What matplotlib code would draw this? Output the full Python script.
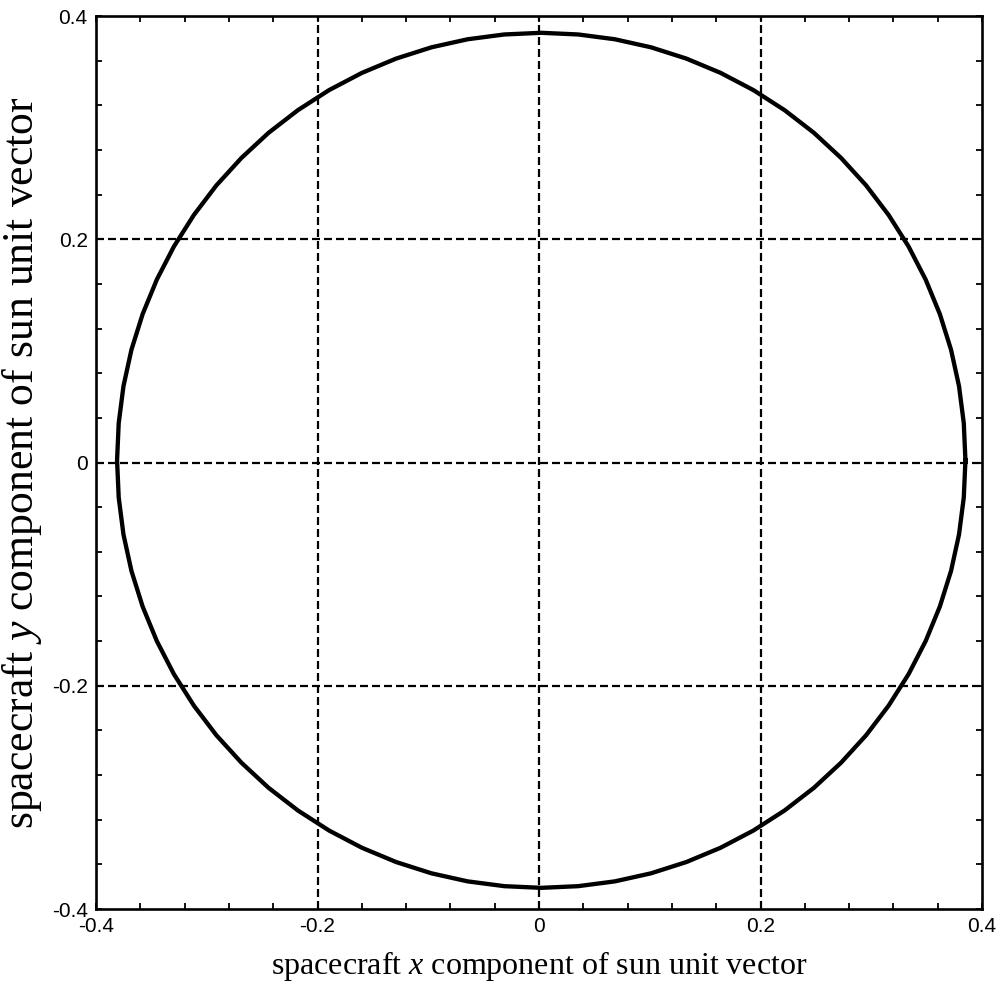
import numpy as np
import matplotlib
matplotlib.use("Agg")
import matplotlib.pyplot as plt
from matplotlib.ticker import AutoMinorLocator

# sun unit vector components over one spin period (spacecraft frame)
sun_x = [0.3850, 0.3835, 0.3792, 0.3720, 0.3619, 0.3491, 0.3337, 0.3157, 0.2954,
         0.2728, 0.2482, 0.2217, 0.1935, 0.1639, 0.1330, 0.1011, 0.0685, 0.0354,
         0.0020, -0.0314, -0.0645, -0.0971, -0.1290, -0.1599, -0.1895, -0.2177, -0.2442,
         -0.2688, -0.2914, -0.3117, -0.3297, -0.3451, -0.3579, -0.3680, -0.3752, -0.3795,
         -0.3810, -0.3795, -0.3752, -0.3680, -0.3579, -0.3451, -0.3297, -0.3117, -0.2914,
         -0.2688, -0.2442, -0.2177, -0.1895, -0.1599, -0.1290, -0.0971, -0.0645, -0.0314,
         0.0020, 0.0354, 0.0685, 0.1011, 0.1330, 0.1639, 0.1935, 0.2217, 0.2482,
         0.2728, 0.2954, 0.3157, 0.3337, 0.3491, 0.3619, 0.3720, 0.3792, 0.3835,
         0.3850]
sun_y = [0.0020, 0.0354, 0.0685, 0.1011, 0.1330, 0.1639, 0.1935, 0.2217, 0.2482,
         0.2728, 0.2954, 0.3157, 0.3337, 0.3491, 0.3619, 0.3720, 0.3792, 0.3835,
         0.3850, 0.3835, 0.3792, 0.3720, 0.3619, 0.3491, 0.3337, 0.3157, 0.2954,
         0.2728, 0.2482, 0.2217, 0.1935, 0.1639, 0.1330, 0.1011, 0.0685, 0.0354,
         0.0020, -0.0314, -0.0645, -0.0971, -0.1290, -0.1599, -0.1895, -0.2177, -0.2442,
         -0.2688, -0.2914, -0.3117, -0.3297, -0.3451, -0.3579, -0.3680, -0.3752, -0.3795,
         -0.3810, -0.3795, -0.3752, -0.3680, -0.3579, -0.3451, -0.3297, -0.3117, -0.2914,
         -0.2688, -0.2442, -0.2177, -0.1895, -0.1599, -0.1290, -0.0971, -0.0645, -0.0314,
         0.0020]

ticks = [-0.4, -0.2, 0, 0.2, 0.4]
tick_labels = ['-0.4', '-0.2', '0', '0.2', '0.4']
grid_at = [-0.2, 0, 0.2]

plt.rcParams['axes.unicode_minus'] = False
plt.rcParams['mathtext.fontset'] = 'custom'
plt.rcParams['mathtext.it'] = 'Liberation Serif:italic'
plt.rcParams['mathtext.rm'] = 'Liberation Serif'

fig = plt.figure(figsize=(9.97, 9.91), dpi=100)
ax = fig.add_axes([0.0963, 0.0827, 0.8887, 0.9011])

# dashed grid at the inner major ticks
for g in grid_at:
    ax.axvline(g, color='k', lw=1.6, ls=(0, (3.6, 1.8)), zorder=1)
    ax.axhline(g, color='k', lw=1.6, ls=(0, (3.6, 1.8)), zorder=1)

ax.plot(sun_x, sun_y, color='k', lw=3.1, solid_joinstyle='round', zorder=3)

ax.set_xlim(-0.4, 0.4)
ax.set_ylim(-0.4, 0.4)
ax.set_xticks(ticks)
ax.set_xticklabels(tick_labels)
ax.set_yticks(ticks)
ax.set_yticklabels(tick_labels)
ax.xaxis.set_minor_locator(AutoMinorLocator(5))
ax.yaxis.set_minor_locator(AutoMinorLocator(5))
ax.tick_params(which='both', direction='in', top=True, right=True,
               width=1.3, color='k')
ax.tick_params(which='major', length=4.5, labelsize=15, pad=6)
ax.tick_params(which='minor', length=4.2)
for lab in ax.get_xticklabels() + ax.get_yticklabels():
    lab.set_fontfamily('Liberation Sans')
for s in ax.spines.values():
    s.set_linewidth(1.9)

ax.set_xlabel('spacecraft $x$ component of sun unit vector',
              fontsize=23, family='Liberation Serif', va='center')
ax.set_ylabel('spacecraft $y$ component of sun unit vector',
              fontsize=31.5, family='Liberation Serif', va='center')
ax.xaxis.set_label_coords(0.5, -0.0635)
ax.yaxis.set_label_coords(-0.083, 0.5)

fig.savefig('out.png', dpi=100)
